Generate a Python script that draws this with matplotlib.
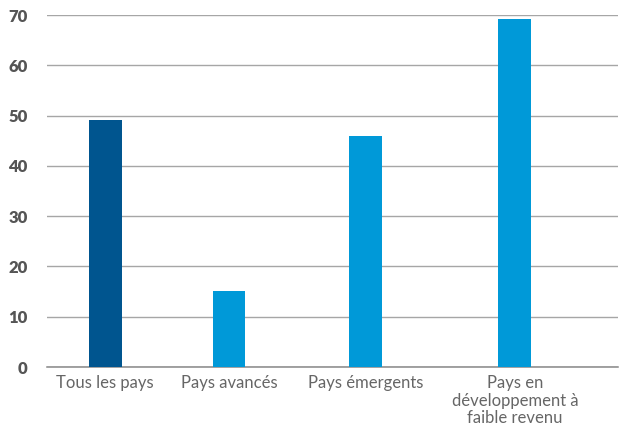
import matplotlib.pyplot as plt

categories = ['Tous les pays', 'Pays avancés', 'Pays émergents',
              'Pays en\ndéveloppement à\nfaible revenu']
values = [49.1, 15.1, 45.9, 69.2]
yticks = [0, 10, 20, 30, 40, 50, 60, 70]

# category positions are not evenly spaced in the original
xpos = [0, 1, 2.105, 3.306]
colors = ['#00558f', '#0099d8', '#0099d8', '#0099d8']

plt.rcParams['font.family'] = ['Lato', 'DejaVu Sans']

fig = plt.figure(figsize=(6.21, 4.29), dpi=100)
ax = fig.add_axes([0.0757, 0.1445, 0.9193, 0.8205])

ax.bar(xpos, values, width=0.266, color=colors, zorder=3)

ax.set_ylim(0, 70)
ax.set_xlim(-0.468, 4.137)
ax.set_yticks(yticks)
ax.set_yticklabels([str(t) for t in yticks], fontsize=12, fontweight='heavy', color='#555555')
ax.set_xticks(xpos)
ax.set_xticklabels(categories, fontsize=12, color='#666666', linespacing=1.1)

ax.yaxis.grid(True, color='#a6a6a6', linewidth=1.0, zorder=0)
ax.tick_params(axis='y', length=0, pad=14)
ax.tick_params(axis='x', length=0, pad=6)
for s in ['top', 'right', 'left']:
    ax.spines[s].set_visible(False)
ax.spines['bottom'].set_color('#888888')
ax.spines['bottom'].set_linewidth(1.1)

fig.savefig('out.png', dpi=100)
